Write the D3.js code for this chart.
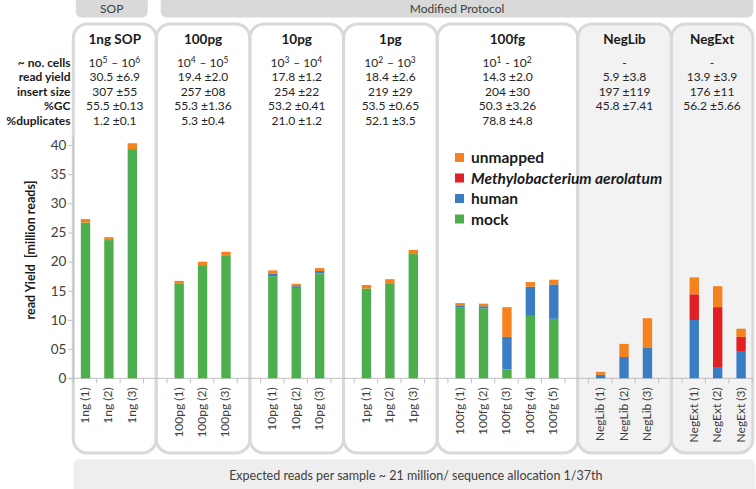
<!DOCTYPE html>
<html><head><meta charset="utf-8">
<script src="https://cdn.jsdelivr.net/npm/d3@7"></script>
<style>
html,body{margin:0;padding:0;background:#fff;}
svg{display:block;font-family:Lato,"Open Sans",sans-serif;}
</style></head>
<body><svg id="chart" width="756" height="489"></svg>
<script>
// ---------- data ----------
const groups = ["1ng SOP","100pg","10pg","1pg","100fg","NegLib","NegExt"];
const negGroups = ["NegLib","NegExt"];
const samples = ["1ng (1)","1ng (2)","1ng (3)","100pg (1)","100pg (2)","100pg (3)","10pg (1)","10pg (2)","10pg (3)","1pg (1)","1pg (2)","1pg (3)","100fg (1)","100fg (2)","100fg (3)","100fg (4)","100fg (5)","NegLib (1)","NegLib (2)","NegLib (3)","NegExt (1)","NegExt (2)","NegExt (3)"];
const sampleGroup = ["1ng SOP","1ng SOP","1ng SOP","100pg","100pg","100pg","10pg","10pg","10pg","1pg","1pg","1pg","100fg","100fg","100fg","100fg","100fg","NegLib","NegLib","NegLib","NegExt","NegExt","NegExt"];
const mock     = [26.7,23.7,39.3,16.3,19.4,21.1,17.5,15.5,18.0,15.4,16.3,21.3,12.1,12.0,1.5,10.7,10.2,0,0,0,0,0,0];
const human    = [0,0,0,0,0,0,0.4,0.3,0.4,0,0,0,0.3,0.35,5.6,5.0,5.9,0.6,3.65,5.3,10.0,1.8,4.55];
const methylo  = [0,0,0,0,0,0,0,0,0,0,0,0,0,0,0,0,0,0,0,0,4.4,10.4,2.55];
const unmapped = [0.6,0.5,1.0,0.4,0.6,0.6,0.6,0.4,0.5,0.6,0.7,0.7,0.5,0.45,5.1,0.8,0.8,0.5,2.25,5.0,2.9,3.6,1.4];
const seriesKeys = ["mock","human","methylo","unmapped"];
const seriesLabels = {unmapped:"unmapped", methylo:"Methylobacterium aerolatum", human:"human", mock:"mock"};
const seriesColors = {mock:"#4cae4c", human:"#3a7dc2", methylo:"#e31f26", unmapped:"#f5821f"};
const legendOrder = ["unmapped","methylo","human","mock"];
const yTicks = [0,5,10,15,20,25,30,35,40];
const statLabels = ["~ no. cells","read yield","insert size","%GC","%duplicates"];
const cellsRow   = ["10^5 – 10^6","10^4 – 10^5","10^3 – 10^4","10^2 – 10^3","10^1 - 10^2","-","-"];
const readYield  = ["30.5 ±6.9","19.4 ±2.0","17.8 ±1.2","18.4 ±2.6","14.3 ±2.0","5.9 ±3.8","13.9 ±3.9"];
const insertSize = ["307 ±55","257 ±08","254 ±22","219 ±29","204 ±30","197 ±119","176 ±11"];
const gcRow      = ["55.5 ±0.13","55.3 ±1.36","53.2 ±0.41","53.5 ±0.65","50.3 ±3.26","45.8 ±7.41","56.2 ±5.66"];
const dupRow     = ["1.2 ±0.1","5.3 ±0.4","21.0 ±1.2","52.1 ±3.5","78.8 ±4.8","",""];
const statRows = [cellsRow, readYield, insertSize, gcRow, dupRow];
const protocolLabels = ["SOP","Modified Protocol"];
const caption = "Expected reads per sample ~ 21 million/ sequence allocation 1/37th";
const yTitle = "read Yield  [million reads]";

// ---------- layout ----------
const svg = d3.select("#chart");
const plotLeft = 73.3, plotRight = 752.3, yBottom = 378.3, yTop = 145;
const panelTop = 24, panelBottom = 453;

// band domain with a gap slot between groups
const domain = [];
groups.forEach((g,gi)=>{
  if(gi>0) domain.push("__gap"+gi);
  samples.forEach((s,i)=>{ if(sampleGroup[i]===g) domain.push(s); });
});
const x = d3.scaleBand().domain(domain).range([plotLeft, plotRight]).paddingInner(0).paddingOuter(0);
const y = d3.scaleLinear().domain([0,40]).range([yBottom, yTop]);
const bw = x.bandwidth()*0.40;

// panel boundaries
const bounds = [plotLeft];
groups.forEach((g,gi)=>{ if(gi>0){ const k="__gap"+gi; bounds.push(x(k)+x.bandwidth()/2 + 1); } });
bounds.push(plotRight+0.5);

// header boxes
const hdr = svg.append("g");
const hb = [[bounds[0]+2.5, bounds[1]-8.5],[bounds[1]+4.5, plotRight+1]];
hb.forEach((b,i)=>{
  hdr.append("rect").attr("x",b[0]).attr("y",-8).attr("width",b[1]-b[0]).attr("height",25.5)
    .attr("rx",6).attr("fill","#d9d9d9");
  hdr.append("text").attr("x",(b[0]+b[1])/2).attr("y",12.5).attr("text-anchor","middle")
    .attr("font-size",12).attr("fill","#404040").text(protocolLabels[i]);
});

// panels
const panels = svg.append("g");
groups.forEach((g,gi)=>{
  panels.append("rect").attr("x",bounds[gi]).attr("y",panelTop)
    .attr("width",bounds[gi+1]-bounds[gi]).attr("height",panelBottom-panelTop)
    .attr("rx",14).attr("fill", negGroups.includes(g)?"#f2f2f2":"#ffffff");
});
groups.forEach((g,gi)=>{
  panels.append("rect").attr("x",bounds[gi]).attr("y",panelTop)
    .attr("width",bounds[gi+1]-bounds[gi]).attr("height",panelBottom-panelTop)
    .attr("rx",14).attr("fill","none").attr("stroke","#d9d9d9").attr("stroke-width",3);
});

// panel titles and stats
const txt = svg.append("g").attr("fill","#1a1a1a");
function addRich(sel, str){
  const parts = str.split(/(\^\d)/);
  parts.forEach(p=>{
    if(p.startsWith("^")){
      sel.append("tspan").attr("font-size",8.5).attr("dy",-4.5).text(p.slice(1));
      sel.append("tspan").attr("dy",4.5).text("\u200A");
    } else if(p.length) sel.append("tspan").text(p);
  });
}
const statFont = 12;
groups.forEach((g,gi)=>{
  const cx = (bounds[gi]+bounds[gi+1])/2;
  txt.append("text").attr("x",cx).attr("y",44).attr("text-anchor","middle")
    .attr("font-size",13.5).attr("font-weight","bold").text(g);
  statRows.forEach((row,ri)=>{
    const t = txt.append("text").attr("x",cx).attr("y",67+ri*14.4).attr("text-anchor","middle")
      .attr("font-size",statFont).attr("fill","#262626");
    addRich(t,row[gi]);
  });
});
statLabels.forEach((l,ri)=>{
  txt.append("text").attr("x",70.5).attr("y",67+ri*14.4).attr("text-anchor","end")
    .attr("font-size",statFont).attr("font-weight","bold").attr("fill","#1a1a1a").text(l);
});

// axes
const gy = svg.append("g").attr("transform",`translate(${plotLeft},0)`)
  .call(d3.axisLeft(y).tickValues(yTicks).tickSize(5).tickFormat(d=>d===5?"05":String(d)));
gy.select(".domain").attr("stroke","#bfbfbf").attr("d",`M-5,${yBottom}H0V${yTop-8}`);
gy.selectAll(".tick line").attr("stroke","#bfbfbf");
gy.selectAll(".tick text").attr("font-size",13.5).attr("fill","#404040").attr("x",-7)
  .attr("font-family","Lato, 'Open Sans', sans-serif");

const gx = svg.append("g").attr("transform",`translate(0,${yBottom})`);
gx.append("line").attr("x1",plotLeft).attr("x2",plotRight).attr("stroke","#bfbfbf").attr("stroke-width",1);
const boundaries = domain.map(d=>x(d)).concat([plotRight]);
gx.selectAll("line.tk").data(boundaries).join("line").attr("class","tk")
  .attr("x1",d=>d).attr("x2",d=>d).attr("y1",0).attr("y2",5).attr("stroke","#bfbfbf");
gx.selectAll("text.xl").data(samples).join("text").attr("class","xl")
  .attr("transform",d=>`translate(${x(d)+x.bandwidth()/2+4},9) rotate(-90)`)
  .attr("text-anchor","end").attr("font-size",12).attr("fill","#404040").text(d=>d);

svg.append("text").attr("transform",`translate(35,250) rotate(-90)`)
  .attr("text-anchor","middle").attr("font-size",12.5).attr("font-weight","bold")
  .attr("fill","#1a1a1a").style("white-space","pre").text(yTitle);

// bars
const table = samples.map((s,i)=>({sample:s, mock:mock[i], human:human[i], methylo:methylo[i], unmapped:unmapped[i]}));
const stack = d3.stack().keys(seriesKeys)(table);
const bars = svg.append("g");
stack.forEach(layer=>{
  bars.selectAll(null).data(layer).join("rect")
    .attr("x",d=>x(d.data.sample)+(x.bandwidth()-bw)/2+0.5)
    .attr("width",bw)
    .attr("y",d=>y(d[1]))
    .attr("height",d=>Math.max(0,y(d[0])-y(d[1])))
    .attr("fill",seriesColors[layer.key]);
});

// legend
const lg = svg.append("g");
legendOrder.forEach((k,i)=>{
  const yy = 157.5 + i*20.5;
  lg.append("rect").attr("x",455).attr("y",yy-4.5).attr("width",9).attr("height",9).attr("fill",seriesColors[k]);
  lg.append("text").attr("x",471).attr("y",yy+5.5).attr("font-size",15.5).attr("font-weight","bold")
    .attr("font-style",k==="methylo"?"italic":"normal").attr("fill","#1a1a1a").text(seriesLabels[k]);
});

// caption
svg.append("rect").attr("x",plotLeft).attr("y",459).attr("width",plotRight+3-plotLeft).attr("height",40)
  .attr("rx",6).attr("fill","#eeeeee");
svg.append("text").attr("x",(plotLeft+plotRight)/2+3).attr("y",480).attr("text-anchor","middle")
  .attr("font-size",12.5).attr("fill","#404040").text(caption);
</script></body></html>
